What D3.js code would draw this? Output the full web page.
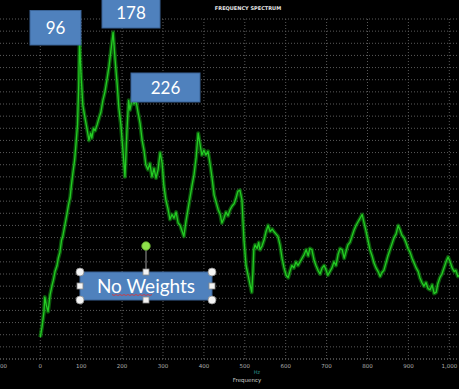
<!DOCTYPE html>
<html><head><meta charset="utf-8">
<script src="https://cdn.jsdelivr.net/npm/d3@7"></script>
<style>html,body{margin:0;padding:0;background:#000;overflow:hidden}</style>
</head><body>
<svg id="chart" width="459" height="389"></svg>
<script>
const freq = [0,4,9,11,15,19,24,29,32,36,41,44,48,52,55,60,65,69,73,76,80,84,87,91,94,96,99,101,104,109,114,119,123,126,130,134,139,144,148,153,158,163,168,173,178,183,188,192,197,202,207,212,216,219,226,229,234,239,244,249,254,258,263,268,273,278,283,288,293,298,302,307,312,317,322,327,332,337,342,346,351,356,361,366,371,376,381,386,390,395,400,405,410,415,420,425,430,435,440,444,449,454,459,464,469,474,479,483,488,493,498,503,508,513,517,520,522,525,530,534,537,542,547,552,557,562,567,571,576,581,586,591,596,601,606,611,615,620,625,630,635,640,645,650,655,659,664,669,674,679,684,689,694,699,703,708,713,718,723,728,733,738,743,747,752,757,762,767,772,777,782,787,791,796,801,806,811,816,821,826,831,835,840,845,850,855,860,865,870,875,880,884,889,894,899,904,909,914,919,924,928,933,938,943,948,953,958,963,968,972,977,982,987,992,997,1002,1007,1012,1016,1021,1025];
const magnitude = [18,26,39,51,44,39,53,61,65,72,77,83,88,98,101,110,119,127,133,143,154,164,176,193,226,263,238,226,209,199,190,180,186,182,190,188,193,199,203,213,220,230,241,255,269,246,226,207,193,172,150,189,213,205,216,210,213,203,194,180,171,160,156,161,150,157,149,156,170,161,143,131,124,115,119,116,121,112,110,106,101,113,123,133,143,152,166,186,178,168,172,168,171,161,149,135,129,123,119,112,116,121,118,123,126,128,133,138,139,131,98,77,69,61,55,73,90,94,91,96,90,93,98,105,110,105,107,105,103,101,94,83,75,69,67,73,77,75,80,77,80,83,86,90,85,91,90,82,77,73,70,75,77,73,69,72,75,80,77,86,91,90,83,88,94,96,101,106,110,113,116,119,113,106,98,90,85,79,75,72,68,71,73,79,85,90,95,100,103,110,106,102,100,96,91,88,83,79,75,72,67,63,60,63,58,57,61,54,55,62,67,70,75,80,84,80,75,72,73,68,69];
const xTicks = [-100,0,100,200,300,400,500,600,700,800,900,1000];
const peakLabels = ["96","178","226"];
const title = "FREQUENCY SPECTRUM";
const xTitle = "Frequency";
const unit = "Hz";
const note = "No Weights";

const svg = d3.select("#chart");
svg.append("rect").attr("width",459).attr("height",389).attr("fill","#000");

const x = d3.scaleLinear().domain([-100,1000]).range([-0.6,449.3]);
const y = d3.scaleLinear().domain([0,280]).range([359,19]);

// grid
const g = svg.append("g");
g.selectAll("line.h").data(d3.range(0,281,10)).join("line")
  .attr("x1",0).attr("x2",459).attr("y1",d=>y(d)).attr("y2",d=>y(d))
  .attr("stroke",d=>d===0?"#8a8a8a":"#5a5a5a").attr("stroke-width",1).attr("stroke-dasharray","1,2");
g.selectAll("line.v").data(xTicks).join("line")
  .attr("x1",d=>x(d)).attr("x2",d=>x(d)).attr("y1",y(280)).attr("y2",y(0))
  .attr("stroke","#5a5a5a").attr("stroke-width",1).attr("stroke-dasharray","1,2");

// x axis labels
const fmt = d3.format(",");
svg.selectAll("text.xt").data(xTicks).join("text")
  .attr("x",d=>x(d)).attr("y",367.5).attr("text-anchor","middle")
  .attr("font-family","DejaVu Sans, sans-serif").attr("font-size",5.5).attr("fill","#b0b0b0")
  .text(d=>fmt(d));
svg.append("text").attr("x",257).attr("y",373.5).attr("text-anchor","middle")
  .attr("font-family","DejaVu Sans, sans-serif").attr("font-size",5).attr("fill","#2b8f8a").text(unit);
svg.append("text").attr("x",247).attr("y",382).attr("text-anchor","middle")
  .attr("font-family","DejaVu Sans, sans-serif").attr("font-size",5.5).attr("fill","#d0d0d0").text(xTitle);
svg.append("text").attr("x",248).attr("y",9.5).attr("text-anchor","middle")
  .attr("font-family","DejaVu Sans, sans-serif").attr("font-weight","bold").attr("font-size",5).attr("fill","#e6e6e6").text(title);

// spectrum line
const data = freq.map((f,i)=>({f, m:magnitude[i]}));
const line = d3.line().x(d=>x(d.f)).y(d=>y(d.m));
svg.append("path").datum(data).attr("d",line).attr("fill","none")
  .attr("stroke","#128f12").attr("stroke-opacity",0.6).attr("stroke-width",4).attr("stroke-linejoin","round");
svg.append("path").datum(data).attr("d",line).attr("fill","none")
  .attr("stroke","#24cc24").attr("stroke-width",1.3).attr("stroke-linejoin","round");

// peak callouts
const boxes = [
  {t:peakLabels[0], x0:30, y0:10.5, w:51, h:34.5},
  {t:peakLabels[1], x0:102, y0:-2, w:58, h:30},
  {t:peakLabels[2], x0:131, y0:73, w:69, h:29}
];
const bg = svg.selectAll("g.box").data(boxes).join("g");
bg.append("rect").attr("x",d=>d.x0).attr("y",d=>d.y0).attr("width",d=>d.w).attr("height",d=>d.h)
  .attr("fill","#4f81bd").attr("stroke","#3a6396").attr("stroke-width",1);
bg.append("text").attr("x",d=>d.x0+d.w/2).attr("y",d=>d.y0+d.h/2).attr("dy","0.36em")
  .attr("text-anchor","middle").attr("font-family","Lato, Open Sans, sans-serif").attr("font-size",17).attr("fill","#fff")
  .text(d=>d.t);

// "No Weights" selected shape
const nb = {x0:80, y0:272, w:132, h:28};
const ng = svg.append("g");
ng.append("line").attr("x1",nb.x0+nb.w/2).attr("x2",nb.x0+nb.w/2).attr("y1",246).attr("y2",nb.y0)
  .attr("stroke","#9a9a9a").attr("stroke-width",1);
ng.append("rect").attr("x",nb.x0).attr("y",nb.y0).attr("width",nb.w).attr("height",nb.h)
  .attr("fill","#4f81bd").attr("stroke","#3a6396").attr("stroke-width",1);
ng.append("text").attr("x",nb.x0+nb.w/2).attr("y",nb.y0+nb.h/2).attr("dy","0.36em")
  .attr("text-anchor","middle").attr("font-family","Lato, Open Sans, sans-serif").attr("font-size",19).attr("fill","#fff")
  .text(note);
// spellcheck squiggle under "Weights"
const sq = d3.range(0,41,2).map((d,i)=>[112+d, 294.5+(i%2?1:0)]);
ng.append("path").attr("d",d3.line()(sq)).attr("fill","none").attr("stroke","#e03030").attr("stroke-width",0.8);
// rotation handle
ng.append("circle").attr("cx",nb.x0+nb.w/2).attr("cy",246).attr("r",4.3)
  .attr("fill","#8ee04a").attr("stroke","#5a9a2a").attr("stroke-width",0.8);
// corner handles
const corners = [[nb.x0,nb.y0],[nb.x0+nb.w,nb.y0],[nb.x0,nb.y0+nb.h],[nb.x0+nb.w,nb.y0+nb.h]];
ng.selectAll("circle.c").data(corners).join("circle").attr("cx",d=>d[0]).attr("cy",d=>d[1]).attr("r",4)
  .attr("fill","#f4f4f4").attr("stroke","#8a8a8a").attr("stroke-width",0.8);
const mids = [[nb.x0+nb.w/2,nb.y0],[nb.x0+nb.w/2,nb.y0+nb.h],[nb.x0,nb.y0+nb.h/2],[nb.x0+nb.w,nb.y0+nb.h/2]];
ng.selectAll("rect.m").data(mids).join("rect").attr("x",d=>d[0]-3).attr("y",d=>d[1]-3).attr("width",6).attr("height",6)
  .attr("fill","#f4f4f4").attr("stroke","#8a8a8a").attr("stroke-width",0.8);
</script>
</body></html>
